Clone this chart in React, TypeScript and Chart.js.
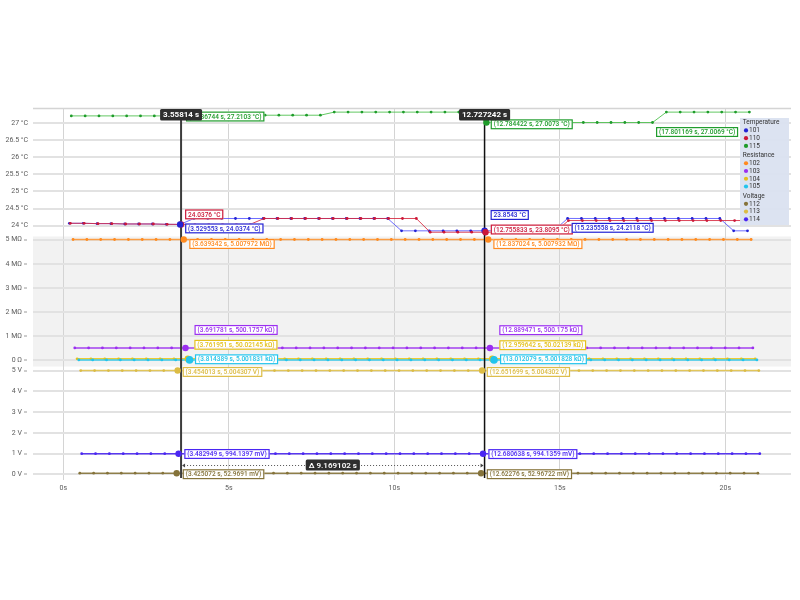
import React, { useEffect, useRef } from 'react';
import { Chart, registerables } from 'chart.js';

Chart.register(...registerables);

// ---------------- data ----------------
const SAMPLE_PERIOD = 0.4180768; // s between two samples of one channel

const channelIds = ['101', '110', '115', '102', '103', '104', '105', '112', '113', '114'];
// time of the first sample of every channel (s), same order as channelIds
const firstSampleTime = [0.184939, 0.213529, 0.24213, 0.294728, 0.347167, 0.417337, 0.469775, 0.498534, 0.527475, 0.556411];

// Temperature (°C)
const temp101 = [
  24.07, 24.07, 24.06, 24.06, 24.05, 24.05, 24.05, 24.04, 24.0374, 24.21,
  24.21, 24.21, 24.21, 24.21, 24.21, 24.21, 24.21, 24.21, 24.21, 24.21,
  24.21, 24.21, 24.21, 24.21, 23.85, 23.85, 23.85, 23.85, 23.85, 23.85,
  23.8543, 23.85, 23.85, 23.85, 23.85, 23.85, 24.2118, 24.21, 24.21, 24.21,
  24.21, 24.21, 24.21, 24.21, 24.21, 24.21, 24.21, 24.21, 23.85, 23.85,
];
const temp110 = [
  24.07, 24.07, 24.06, 24.06, 24.05, 24.05, 24.05, 24.04, 24.0376, 24.04,
  24.04, 24.04, 24.04, 24.04, 24.21, 24.21, 24.21, 24.21, 24.21, 24.21,
  24.21, 24.21, 24.21, 24.21, 24.21, 24.21, 23.81, 23.81, 23.81, 23.81,
  23.8095, 23.81, 23.81, 23.81, 23.81, 23.81, 24.15, 24.15, 24.15, 24.15,
  24.15, 24.15, 24.15, 24.15, 24.15, 24.15, 24.15, 24.15, 24.15, 24.15,
];
const temp115 = [
  27.2, 27.2, 27.2, 27.2, 27.2, 27.2, 27.2, 27.2, 27.2103, 27.22,
  27.22, 27.22, 27.22, 27.22, 27.22, 27.22, 27.22, 27.22, 27.22, 27.31,
  27.31, 27.31, 27.31, 27.31, 27.31, 27.31, 27.31, 27.31, 27.31, 27.31,
  27.0073, 27.007, 27.007, 27.007, 27.007, 27.007, 27.007, 27.007, 27.007, 27.007,
  27.007, 27.007, 27.0069, 27.31, 27.31, 27.31, 27.31, 27.31, 27.31, 27.31,
];
// Resistance (Ω)
const res102 = [
  5007950, 5007950, 5007950, 5007950, 5007950, 5007950, 5007950, 5007950, 5007972, 5007950,
  5007950, 5007950, 5007950, 5007950, 5007950, 5007950, 5007950, 5007950, 5007950, 5007950,
  5007950, 5007950, 5007950, 5007950, 5007950, 5007950, 5007950, 5007950, 5007950, 5007950,
  5007932, 5007950, 5007950, 5007950, 5007950, 5007950, 5007950, 5007950, 5007950, 5007950,
  5007950, 5007950, 5007950, 5007950, 5007950, 5007950, 5007950, 5007950, 5007950, 5007950,
];
const res103 = [
  500175.4, 500175.4, 500175.4, 500175.4, 500175.4, 500175.4, 500175.4, 500175.4, 500175.7, 500175.4,
  500175.4, 500175.4, 500175.4, 500175.4, 500175.4, 500175.4, 500175.4, 500175.4, 500175.4, 500175.4,
  500175.4, 500175.4, 500175.4, 500175.4, 500175.4, 500175.4, 500175.4, 500175.4, 500175.4, 500175.4,
  500175, 500175.4, 500175.4, 500175.4, 500175.4, 500175.4, 500175.4, 500175.4, 500175.4, 500175.4,
  500175.4, 500175.4, 500175.4, 500175.4, 500175.4, 500175.4, 500175.4, 500175.4, 500175.4, 500175.4,
];
const res104 = [
  50021.4, 50021.4, 50021.4, 50021.4, 50021.4, 50021.4, 50021.4, 50021.4, 50021.45, 50021.4,
  50021.4, 50021.4, 50021.4, 50021.4, 50021.4, 50021.4, 50021.4, 50021.4, 50021.4, 50021.4,
  50021.4, 50021.4, 50021.4, 50021.4, 50021.4, 50021.4, 50021.4, 50021.4, 50021.4, 50021.4,
  50021.39, 50021.4, 50021.4, 50021.4, 50021.4, 50021.4, 50021.4, 50021.4, 50021.4, 50021.4,
  50021.4, 50021.4, 50021.4, 50021.4, 50021.4, 50021.4, 50021.4, 50021.4, 50021.4, 50021.4,
];
const res105 = [
  5001.83, 5001.83, 5001.83, 5001.83, 5001.83, 5001.83, 5001.83, 5001.83, 5001.831, 5001.83,
  5001.83, 5001.83, 5001.83, 5001.83, 5001.83, 5001.83, 5001.83, 5001.83, 5001.83, 5001.83,
  5001.83, 5001.83, 5001.83, 5001.83, 5001.83, 5001.83, 5001.83, 5001.83, 5001.83, 5001.83,
  5001.828, 5001.83, 5001.83, 5001.83, 5001.83, 5001.83, 5001.83, 5001.83, 5001.83, 5001.83,
  5001.83, 5001.83, 5001.83, 5001.83, 5001.83, 5001.83, 5001.83, 5001.83, 5001.83, 5001.83,
];
// Voltage (V)
const volt112 = [
  0.05297, 0.05297, 0.05297, 0.05297, 0.05297, 0.05297, 0.05297, 0.0529691, 0.05297, 0.05297,
  0.05297, 0.05297, 0.05297, 0.05297, 0.05297, 0.05297, 0.05297, 0.05297, 0.05297, 0.05297,
  0.05297, 0.05297, 0.05297, 0.05297, 0.05297, 0.05297, 0.05297, 0.05297, 0.05297, 0.05296722,
  0.05297, 0.05297, 0.05297, 0.05297, 0.05297, 0.05297, 0.05297, 0.05297, 0.05297, 0.05297,
  0.05297, 0.05297, 0.05297, 0.05297, 0.05297, 0.05297, 0.05297, 0.05297, 0.05297, 0.05297,
];
const volt113 = [
  5.0043, 5.0043, 5.0043, 5.0043, 5.0043, 5.0043, 5.0043, 5.004307, 5.0043, 5.0043,
  5.0043, 5.0043, 5.0043, 5.0043, 5.0043, 5.0043, 5.0043, 5.0043, 5.0043, 5.0043,
  5.0043, 5.0043, 5.0043, 5.0043, 5.0043, 5.0043, 5.0043, 5.0043, 5.0043, 5.004302,
  5.0043, 5.0043, 5.0043, 5.0043, 5.0043, 5.0043, 5.0043, 5.0043, 5.0043, 5.0043,
  5.0043, 5.0043, 5.0043, 5.0043, 5.0043, 5.0043, 5.0043, 5.0043, 5.0043, 5.0043,
];
const volt114 = [
  0.994138, 0.994138, 0.994138, 0.994138, 0.994138, 0.994138, 0.994138, 0.9941397, 0.994138, 0.994138,
  0.994138, 0.994138, 0.994138, 0.994138, 0.994138, 0.994138, 0.994138, 0.994138, 0.994138, 0.994138,
  0.994138, 0.994138, 0.994138, 0.994138, 0.994138, 0.994138, 0.994138, 0.994138, 0.994138, 0.9941359,
  0.994138, 0.994138, 0.994138, 0.994138, 0.994138, 0.994138, 0.994138, 0.994138, 0.994138, 0.994138,
  0.994138, 0.994138, 0.994138, 0.994138, 0.994138, 0.994138, 0.994138, 0.994138, 0.994138, 0.994138,
];

// tick values
const timeTicks = [0, 5, 10, 15, 20];
const tempTicks = [24, 24.5, 25, 25.5, 26, 26.5, 27];
const resTicks = [0, 1e6, 2e6, 3e6, 4e6, 5e6];
const voltTicks = [0, 1, 2, 3, 4, 5];

// cursors (s)
const cursorTimes = [3.55814, 12.727242];
// readouts: channel, sample time (null = value at cursor), value
type Readout = [string, number | null, number];
const cursorAReadouts: Readout[] = [
  ['115', 3.586744, 27.2103], ['110', null, 24.0376], ['101', 3.529553, 24.0374],
  ['102', 3.639342, 5007972], ['103', 3.691781, 500175.7], ['104', 3.761951, 50021.45], ['105', 3.814389, 5001.831],
  ['113', 3.454013, 5.004307], ['114', 3.482949, 0.9941397], ['112', 3.425072, 0.0529691],
];
const cursorBReadouts: Readout[] = [
  ['115', 12.784422, 27.0073], ['101', null, 23.8543], ['110', 12.755833, 23.8095],
  ['102', 12.837024, 5007932], ['103', 12.889471, 500175], ['104', 12.959642, 50021.39], ['105', 13.012079, 5001.828],
  ['113', 12.651699, 5.004302], ['114', 12.680638, 0.9941359], ['112', 12.62276, 0.05296722],
];
const markerReadouts: Readout[] = [
  ['115', 17.801169, 27.0069], ['101', 15.235558, 24.2118],
];

const legendGroups = ['Temperature', 'Resistance', 'Voltage'];
const legendMembers = [['101', '110', '115'], ['102', '103', '104', '105'], ['112', '113', '114']];

// ---------------- styling / layout ----------------
const seriesValues: Record<string, number[]> = {
  '101': temp101, '110': temp110, '115': temp115,
  '102': res102, '103': res103, '104': res104, '105': res105,
  '112': volt112, '113': volt113, '114': volt114,
};
const seriesStyle: Record<string, { axis: string; color: string; line: string; order: number }> = {
  '101': { axis: 'yT', color: '#2323d4', line: 'rgba(72,72,255,0.8)', order: 2 },
  '110': { axis: 'yT', color: '#cc1838', line: 'rgba(214,36,60,0.85)', order: 1 },
  '115': { axis: 'yT', color: '#1f9c2b', line: 'rgba(72,190,72,0.85)', order: 3 },
  '102': { axis: 'yR', color: '#ff8a1f', line: 'rgba(255,150,50,0.9)', order: 4 },
  '103': { axis: 'yR', color: '#9b2ff0', line: 'rgba(155,47,240,0.9)', order: 5 },
  '104': { axis: 'yR', color: '#e4c01c', line: 'rgba(235,200,30,0.9)', order: 7 },
  '105': { axis: 'yR', color: '#22c4ec', line: 'rgba(40,200,236,0.9)', order: 6 },
  '112': { axis: 'yV', color: '#85733a', line: 'rgba(133,115,58,0.9)', order: 8 },
  '113': { axis: 'yV', color: '#dcbc44', line: 'rgba(226,195,76,0.9)', order: 9 },
  '114': { axis: 'yV', color: '#4a26f2', line: 'rgba(74,38,242,0.9)', order: 10 },
};
// tag placement relative to the readout point: [dx, dy of tag centre] in px
const tagOffsetsA: Record<string, [number, number]> = {
  '115': [4, 1], '110': [4, -10], '101': [5, 4], '102': [5.5, 4.5], '103': [9, -18],
  '104': [6.5, -14], '105': [5.4, -0.6], '113': [5, 1.4], '114': [5.7, 0.3], '112': [6, 1],
};
const tagOffsetsB: Record<string, [number, number]> = {
  '115': [4.2, 1.8], '101': [6, -15.7], '110': [5.2, -2.7], '102': [5.1, 4.6], '103': [9.3, -17.8],
  '104': [7, -13.6], '105': [6, -0.6], '113': [4.6, 1.4], '114': [5.3, 0.4], '112': [5.6, 1],
};
const tagOffsetsM: Record<string, [number, number]> = { '115': [3.5, 9.5], '101': [4, 9.4] };

// ---------------- formatting ----------------
const sig = (v: number, p = 7) => {
  let s = v.toPrecision(p);
  if (s.indexOf('.') >= 0 && s.indexOf('e') < 0) s = s.replace(/0+$/, '').replace(/\.$/, '');
  return s;
};
const fmtTime = (t: number) => t.toFixed(6).replace(/0+$/, '').replace(/\.$/, '');
const fmtTemp = (v: number) => `${sig(v)} °C`;
const fmtRes = (v: number) =>
  Math.abs(v) >= 1e6 ? `${sig(v / 1e6)} MΩ` : Math.abs(v) >= 1e3 ? `${sig(v / 1e3)} kΩ` : `${sig(v)} Ω`;
const fmtVolt = (v: number) => (Math.abs(v) >= 1 ? `${sig(v)} V` : `${sig(v * 1e3)} mV`);
const fmtFor = (axis: string) => (axis === 'yT' ? fmtTemp : axis === 'yR' ? fmtRes : fmtVolt);

const FONT = 'Roboto';

function drawTag(ctx: CanvasRenderingContext2D, x: number, yc: number, text: string, color: string) {
  ctx.font = `500 6.5px ${FONT}`;
  const w = ctx.measureText(text).width + 6;
  const h = 10;
  const y = yc - h / 2;
  ctx.fillStyle = 'rgba(255,255,255,0.94)';
  ctx.fillRect(x, y, w, h);
  ctx.strokeStyle = color;
  ctx.lineWidth = 1.2;
  ctx.strokeRect(x + 0.6, y + 0.6, w - 1.2, h - 1.2);
  ctx.fillStyle = color;
  ctx.textAlign = 'left';
  ctx.textBaseline = 'middle';
  ctx.fillText(text, x + 3, yc + 0.5);
}

function darkBox(ctx: CanvasRenderingContext2D, cx: number, cy: number, text: string, font: string, h: number) {
  ctx.font = font;
  const w = ctx.measureText(text).width + 6;
  ctx.fillStyle = '#2e2e2e';
  ctx.beginPath();
  (ctx as any).roundRect ? (ctx as any).roundRect(cx - w / 2, cy - h / 2, w, h, 1.5) : ctx.rect(cx - w / 2, cy - h / 2, w, h);
  ctx.fill();
  ctx.fillStyle = '#ffffff';
  ctx.textAlign = 'center';
  ctx.textBaseline = 'middle';
  ctx.fillText(text, cx, cy + 0.5);
}

const overlayPlugin = {
  id: 'overlay',
  beforeDraw(chart: any) {
    const { ctx, chartArea } = chart;
    const yR = chart.scales.yR;
    ctx.save();
    ctx.fillStyle = '#f2f2f2';
    ctx.fillRect(chartArea.left, yR.top, chartArea.right - chartArea.left, yR.bottom - yR.top);
    ctx.restore();
  },
  beforeDatasetsDraw(chart: any) {
    const { ctx, chartArea } = chart;
    ctx.save();
    ctx.strokeStyle = '#d4d4d4';
    ctx.lineWidth = 1.5;
    ctx.beginPath();
    ctx.moveTo(chartArea.left, chartArea.top + 0.5);
    ctx.lineTo(chartArea.right, chartArea.top + 0.5);
    ctx.stroke();
    ctx.restore();
  },
  afterDraw(chart: any) {
    const { ctx, chartArea } = chart;
    const sx = chart.scales.x;
    const xA = sx.getPixelForValue(cursorTimes[0]);
    const xB = sx.getPixelForValue(cursorTimes[1]);
    ctx.save();

    // cursor lines
    const cursorStyles = [['#3c3c3c', 2], ['#111111', 1.5]] as const;
    [xA, xB].forEach((x, i) => {
      ctx.strokeStyle = cursorStyles[i][0];
      ctx.lineWidth = cursorStyles[i][1];
      ctx.beginPath();
      ctx.moveTo(x, chartArea.top + 1);
      ctx.lineTo(x, chartArea.bottom - 2);
      ctx.stroke();
    });

    const groups: [Readout[], number, Record<string, [number, number]>, boolean][] = [
      [cursorAReadouts, cursorTimes[0], tagOffsetsA, true],
      [cursorBReadouts, cursorTimes[1], tagOffsetsB, true],
      [markerReadouts, NaN, tagOffsetsM, false],
    ];
    // highlight dots at the cursor readouts
    groups.forEach(([list, ct, , dots]) => {
      if (!dots) return;
      list.forEach(([id, t, v]) => {
        const st = seriesStyle[id];
        const x = sx.getPixelForValue(t ?? ct);
        const y = chart.scales[st.axis].getPixelForValue(v);
        ctx.fillStyle = st.color;
        ctx.beginPath();
        ctx.arc(x, y, id === '105' ? 3.8 : 3.2, 0, Math.PI * 2);
        ctx.fill();
      });
    });
    // tags
    groups.forEach(([list, ct, offs]) => {
      const cx = sx.getPixelForValue(ct);
      list.forEach(([id, t, v]) => {
        const st = seriesStyle[id];
        const fmt = fmtFor(st.axis);
        const x = t === null ? cx : sx.getPixelForValue(t);
        const y = chart.scales[st.axis].getPixelForValue(v);
        const [dx, dy] = offs[id] || [5, 0];
        const text = t === null ? fmt(v) : `(${fmtTime(t)} s, ${fmt(v)})`;
        drawTag(ctx, x + dx, y + dy, text, st.color);
      });
    });

    // cursor time boxes
    [xA, xB].forEach((x, i) => {
      darkBox(ctx, x, chartArea.top + 6.8, `${fmtTime(cursorTimes[i])} s`, `bold 8px ${FONT}`, 11.5);
    });

    // delta measurement
    const yD = chartArea.bottom - 15;
    ctx.strokeStyle = '#555';
    ctx.lineWidth = 1;
    ctx.setLineDash([1, 2]);
    ctx.beginPath();
    ctx.moveTo(xA + 3, yD + 0.5);
    ctx.lineTo(xB - 3, yD + 0.5);
    ctx.stroke();
    ctx.setLineDash([]);
    ctx.fillStyle = '#444';
    ctx.beginPath();
    ctx.moveTo(xA + 1, yD + 0.5); ctx.lineTo(xA + 4, yD - 1.5); ctx.lineTo(xA + 4, yD + 2.5); ctx.closePath();
    ctx.moveTo(xB - 1, yD + 0.5); ctx.lineTo(xB - 4, yD - 1.5); ctx.lineTo(xB - 4, yD + 2.5); ctx.closePath();
    ctx.fill();
    darkBox(ctx, (xA + xB) / 2, yD, `Δ ${fmtTime(cursorTimes[1] - cursorTimes[0])} s`, `600 8px ${FONT}`, 11);

    // grouped legend
    const lx = chartArea.right - 51;
    const ly = chartArea.top + 10;
    ctx.fillStyle = 'rgba(218,225,240,0.95)';
    ctx.fillRect(lx, ly, 49, 107);
    let y = ly + 4.7;
    ctx.textAlign = 'left';
    ctx.textBaseline = 'middle';
    legendGroups.forEach((title, gi) => {
      if (gi > 0) y += 1.8;
      ctx.font = `6.5px ${FONT}`;
      ctx.fillStyle = '#333';
      ctx.fillText(title, lx + 2.7, y);
      y += 7.75;
      legendMembers[gi].forEach((id) => {
        ctx.fillStyle = seriesStyle[id].color;
        ctx.beginPath();
        ctx.arc(lx + 6, y, 2.1, 0, Math.PI * 2);
        ctx.fill();
        ctx.fillStyle = '#333';
        ctx.fillText(id, lx + 9, y + 0.3);
        y += 7.75;
      });
    });
    ctx.restore();
  },
};

export default function App() {
  const ref = useRef<HTMLCanvasElement>(null);
  useEffect(() => {
    Chart.defaults.font.family = FONT;
    const tickFont = { size: 7, family: FONT };
    const setTicks = (vals: number[]) => (s: any) => {
      s.ticks = vals.map((v) => ({ value: v }));
    };
    const datasets = channelIds.map((id, ci) => {
      const st = seriesStyle[id];
      return {
        label: id,
        yAxisID: st.axis,
        order: st.order,
        data: seriesValues[id].map((v, i) => ({ x: firstSampleTime[ci] + i * SAMPLE_PERIOD, y: v })),
        borderColor: st.line,
        backgroundColor: st.color,
        pointBackgroundColor: st.color,
        pointBorderWidth: 0,
        pointRadius: 1.4,
        borderWidth: st.axis === 'yT' ? 1 : 1.5,
        tension: 0,
      };
    });
    const yBase = (min: number, max: number, weight: number, stackWeight: number, ticksVals: number[], cb: (v: number) => string, dash: boolean) => ({
      type: 'linear' as const,
      position: 'left' as const,
      stack: 'panels',
      stackWeight,
      weight,
      min,
      max,
      border: { display: false },
      grid: dash
        ? { color: '#e2e2e2', lineWidth: 2, drawTicks: true, tickLength: 9, tickBorderDash: [3, 6], tickColor: '#9a9a9a', tickWidth: 1 }
        : { color: '#e2e2e2', lineWidth: 2, drawTicks: false },
      ticks: { autoSkip: false, color: '#5a5a5a', font: tickFont, padding: dash ? 2 : 5, callback: (v: any) => cb(Number(v)) },
      afterBuildTicks: setTicks(ticksVals),
      afterFit: (s: any) => { s.width = 33; },
    });
    const chart = new Chart(ref.current as HTMLCanvasElement, {
      type: 'line',
      data: { datasets: datasets as any },
      options: {
        animation: false,
        responsive: false,
        devicePixelRatio: 1,
        events: [],
        layout: { padding: { top: 108, right: 9, bottom: 100, left: 0 } },
        plugins: { legend: { display: false }, tooltip: { enabled: false } },
        scales: {
          x: {
            type: 'linear',
            min: -0.915,
            max: 21.985,
            border: { display: false },
            grid: { color: '#d4d4d4', lineWidth: 1, drawTicks: false },
            ticks: { autoSkip: false, maxRotation: 0, color: '#5a5a5a', font: tickFont, padding: 4, callback: (v: any) => `${v}s` },
            afterBuildTicks: setTicks(timeTicks),
            afterFit: (s: any) => { s.height = 20; },
          },
          yT: yBase(23.685, 27.43, 3, 128.5, tempTicks, (v) => `${Number(v.toFixed(2))} °C`, false),
          yR: yBase(-270000, 5133000, 2, 130, resTicks, (v) => (v === 0 ? '0 Ω' : `${v / 1e6} MΩ`), true),
          yV: yBase(-0.275, 5.2, 1, 113.5, voltTicks, (v) => `${v} V`, true),
        } as any,
      },
      plugins: [overlayPlugin],
    });
    return () => chart.destroy();
  }, []);
  return (
    <div style={{ position: 'fixed', left: 0, top: 0, width: 800, height: 600, background: '#ffffff' }}>
      <canvas ref={ref} width={800} height={600} style={{ display: 'block', width: 800, height: 600 }} />
    </div>
  );
}
